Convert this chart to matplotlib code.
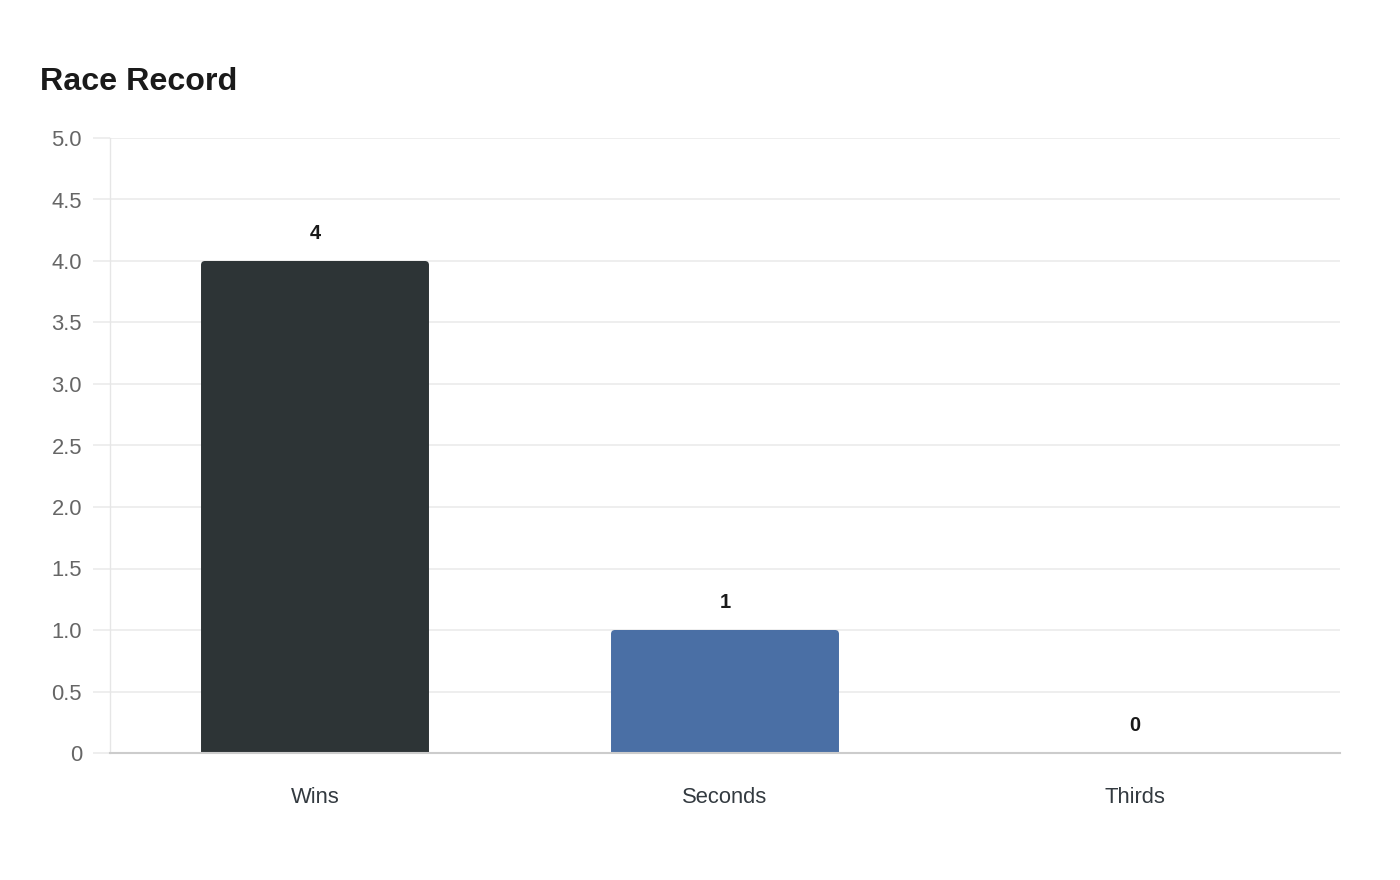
import matplotlib
matplotlib.use("Agg")
import matplotlib.pyplot as plt
from matplotlib.patches import FancyBboxPatch

plt.rcParams['font.family'] = ['Liberation Sans', 'DejaVu Sans']

categories = ["Wins", "Seconds", "Thirds"]
values = [4, 1, 0]
colors = ["#2d3436", "#4a6fa5", "#c0392b"]
yticks = [0, 0.5, 1.0, 1.5, 2.0, 2.5, 3.0, 3.5, 4.0, 4.5, 5.0]
ytick_labels = ["0", "0.5", "1.0", "1.5", "2.0", "2.5", "3.0", "3.5", "4.0", "4.5", "5.0"]

W, H = 1400, 880
fig = plt.figure(figsize=(14, 8.8), dpi=100)
left, right, top, bottom = 110, 1340, 138, 753
ax = fig.add_axes([left / W, 1 - bottom / H, (right - left) / W, (bottom - top) / H])

ax.set_xlim(-0.5, len(categories) - 0.5)
ax.set_ylim(0, 5)

bar_w = 0.556
xpp = (len(categories)) / (right - left)
ypp = 5 / (bottom - top)
rad_px = 4
for i, (v, c) in enumerate(zip(values, colors)):
    if v > 0:
        p = FancyBboxPatch((i - bar_w / 2, -0.1), bar_w, v + 0.1,
                           boxstyle=f"round,pad=0,rounding_size={rad_px * xpp}",
                           mutation_aspect=ypp / xpp,
                           facecolor=c, edgecolor="none", zorder=3)
        ax.add_patch(p)
    ax.annotate(str(v), (i, v), xytext=(0, 12.8), textcoords="offset points",
                ha="center", va="bottom", fontsize=14.5, fontweight="bold",
                color="#1a1a1a", zorder=4)

ax.set_xticks(range(len(categories)))
ax.set_xticklabels(categories, fontsize=15.8, color="#333a40")
ax.tick_params(axis="x", length=0, pad=24.5)
ax.set_yticks(yticks)
ax.set_yticklabels(ytick_labels, fontsize=15.8, color="#666666")
ax.tick_params(axis="y", length=12.2, width=1.2, color="#ebebeb", pad=8)

ax.grid(axis="y", color="#ebebeb", linewidth=1.2, zorder=0)
ax.set_axisbelow(True)
for s in ["top", "right"]:
    ax.spines[s].set_visible(False)
ax.spines["left"].set_color("#e6e6e6")
ax.spines["left"].set_linewidth(1)
ax.spines["bottom"].set_color("#cccccc")
ax.spines["bottom"].set_linewidth(1.5)
ax.spines["bottom"].set_zorder(5)

fig.text(40 / W, 1 - 82 / H, "Race Record", fontsize=23.2, fontweight="bold",
         color="#1a1a1a", ha="left", va="center")

fig.savefig("out.png", dpi=100, facecolor="white")
